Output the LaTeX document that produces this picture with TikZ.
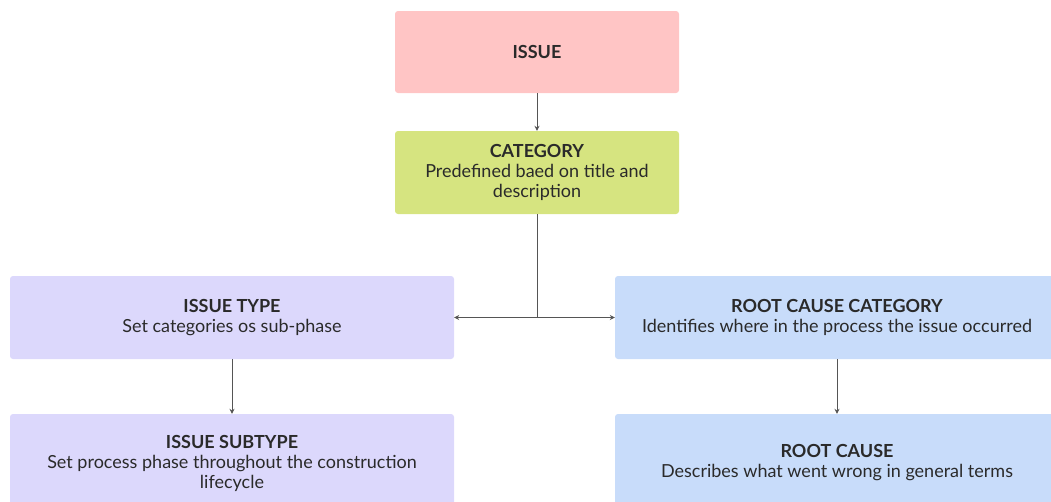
\documentclass[tikz,border=0pt]{standalone}
\usepackage{fontspec}
\setmainfont{Lato}
\usetikzlibrary{arrows.meta}
\definecolor{pinkc}{HTML}{FFC5C5}
\definecolor{greenc}{HTML}{D6E480}
\definecolor{lavc}{HTML}{DCD8FC}
\definecolor{bluec}{HTML}{C8DCFA}
\definecolor{textc}{HTML}{2A2A2A}
\definecolor{linec}{HTML}{555555}
\begin{document}
\begin{tikzpicture}[x=1pt,y=-1pt,
  box/.style={rectangle, rounded corners=3pt, inner sep=0pt, align=center,
    font=\fontsize{18}{20}\selectfont, text=textc},
  conn/.style={draw=linec, line width=0.8pt},
  arr/.style={conn, -{Stealth[length=5pt,width=5pt]}}]
\useasboundingbox (0,0) rectangle (1051,501);
\clip (0,0) rectangle (1051,501);
\node[box, fill=pinkc, minimum width=284pt, minimum height=82pt] (issue) at (537,52) {\textbf{ISSUE}};
\node[box, fill=greenc, minimum width=284pt, minimum height=83pt] (cat) at (537,172.5) {\textbf{CATEGORY}\\Predefined baed on title and\\description};
\node[box, fill=lavc, minimum width=444pt, minimum height=83pt] (itype) at (232,317.5) {\textbf{ISSUE TYPE}\\Set categories os sub-phase};
\node[box, fill=bluec, minimum width=444pt, minimum height=83pt] (rcc) at (837,317.5) {\textbf{ROOT CAUSE CATEGORY}\\Identifies where in the process the issue occurred};
\node[box, fill=lavc, minimum width=444pt, minimum height=98pt] (isub) at (232,463) {\textbf{ISSUE SUBTYPE}\\Set process phase throughout the construction\\lifecycle};
\node[box, fill=bluec, minimum width=444pt, minimum height=98pt] (rc) at (837,463) {\textbf{ROOT CAUSE}\\Describes what went wrong in general terms};
\coordinate (j) at (537,317.5);
\draw[arr] (issue.south) -- (cat.north);
\draw[conn] (cat.south) -- (j);
\draw[arr] (j) -- (itype.east);
\draw[arr] (j) -- (rcc.west);
\draw[arr] (itype.south) -- (isub.north);
\draw[arr] (rcc.south) -- (rc.north);
\end{tikzpicture}
\end{document}
